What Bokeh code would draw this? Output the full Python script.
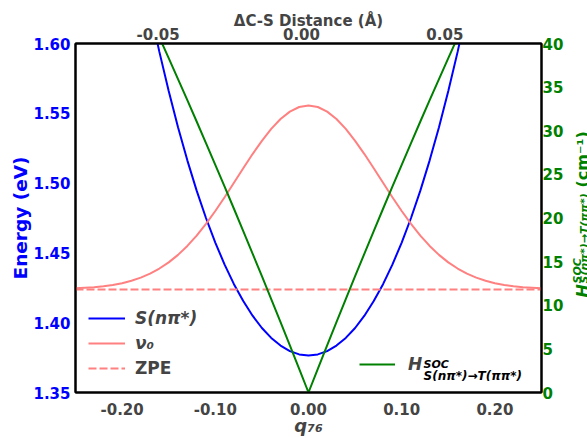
from bokeh.plotting import figure
from bokeh.layouts import row
from bokeh.models import (Range1d, LinearAxis, FixedTicker, NumeralTickFormatter,
                          Legend, LegendItem, Label)
from bokeh.embed import file_html
from bokeh.resources import INLINE
import math

# ---------------- data ----------------
q_grid = [-0.18, -0.17, -0.16, -0.15, -0.14, -0.13, -0.12, -0.11, -0.10, -0.09,
          -0.08, -0.07, -0.06, -0.05, -0.04, -0.03, -0.02, -0.01, 0.00,
          0.01, 0.02, 0.03, 0.04, 0.05, 0.06, 0.07, 0.08, 0.09, 0.10,
          0.11, 0.12, 0.13, 0.14, 0.15, 0.16, 0.17, 0.18]
e_s = [1.6578, 1.6247, 1.5940, 1.5659, 1.5400, 1.5163, 1.4946, 1.4750, 1.4574, 1.4416,
       1.4276, 1.4155, 1.4050, 1.3962, 1.3891, 1.3836, 1.3796, 1.3773, 1.3765,
       1.3773, 1.3796, 1.3836, 1.3891, 1.3962, 1.4050, 1.4155, 1.4276, 1.4416, 1.4574,
       1.4750, 1.4946, 1.5163, 1.5400, 1.5659, 1.5940, 1.6247, 1.6578]
h_soc = [45.40, 43.06, 40.70, 38.33, 35.92, 33.50, 31.06, 28.59, 26.10, 23.59,
         21.06, 18.50, 15.92, 13.33, 10.70, 8.06, 5.40, 2.71, 0.00,
         2.71, 5.40, 8.06, 10.70, 13.33, 15.92, 18.50, 21.06, 23.59, 26.10,
         28.59, 31.06, 33.50, 35.92, 38.33, 40.70, 43.06, 45.40]

q_nu = [-0.25, -0.24, -0.23, -0.22, -0.21, -0.20, -0.19, -0.18, -0.17, -0.16,
        -0.15, -0.14, -0.13, -0.12, -0.11, -0.10, -0.09, -0.08, -0.07, -0.06,
        -0.05, -0.04, -0.03, -0.02, -0.01, 0.00, 0.01, 0.02, 0.03, 0.04,
        0.05, 0.06, 0.07, 0.08, 0.09, 0.10, 0.11, 0.12, 0.13, 0.14,
        0.15, 0.16, 0.17, 0.18, 0.19, 0.20, 0.21, 0.22, 0.23, 0.24, 0.25]
e_nu = [1.4246, 1.4250, 1.4254, 1.4261, 1.4270, 1.4283, 1.4300, 1.4323, 1.4351, 1.4388,
        1.4432, 1.4486, 1.4550, 1.4624, 1.4708, 1.4800, 1.4899, 1.5002, 1.5106, 1.5208,
        1.5303, 1.5388, 1.5459, 1.5512, 1.5545, 1.5556, 1.5545, 1.5512, 1.5459, 1.5388,
        1.5303, 1.5208, 1.5106, 1.5002, 1.4899, 1.4800, 1.4708, 1.4624, 1.4550, 1.4486,
        1.4432, 1.4388, 1.4351, 1.4323, 1.4300, 1.4283, 1.4270, 1.4261, 1.4254, 1.4250, 1.4246]

q_zpe = [-0.25, 0.25]
e_zpe = [1.4238, 1.4238]

x_ticks = [-0.20, -0.10, 0.00, 0.10, 0.20]
y_ticks = [1.35, 1.40, 1.45, 1.50, 1.55, 1.60]
soc_ticks = [0, 5, 10, 15, 20, 25, 30, 35, 40]
dist_ticks = [-0.05, 0.00, 0.05]

FONT = "DejaVu Sans"
BLUE = "#0000ff"
GREEN = "#008000"
PINK = "#ff8080"

p = figure(width=566, height=438, output_backend="svg", toolbar_location=None,
           x_range=Range1d(-0.25, 0.25), y_range=Range1d(1.35, 1.60),
           min_border_left=75, min_border_right=23, min_border_top=43,
           min_border_bottom=46)
p.extra_x_ranges = {"dist": Range1d(-0.0788, 0.0837)}
p.extra_y_ranges = {"soc": Range1d(0, 40)}
p.grid.visible = False
p.outline_line_color = "black"
p.outline_line_width = 2

left_axis = p.left[0]
bottom_axis = p.below[0]
right_axis = LinearAxis(y_range_name="soc")
top_axis = LinearAxis(x_range_name="dist")
p.add_layout(right_axis, "right")
p.add_layout(top_axis, "above")

for ax in [left_axis, bottom_axis, right_axis, top_axis]:
    ax.major_tick_in = 0
    ax.major_tick_out = 0
    ax.minor_tick_in = 0
    ax.minor_tick_out = 0
    ax.axis_line_color = "black"
    ax.axis_line_width = 2
    ax.major_label_text_font = FONT
    ax.major_label_text_font_style = "bold"
    ax.major_label_text_font_size = "15px"
    ax.axis_label_text_font = FONT

bottom_axis.ticker = FixedTicker(ticks=x_ticks)
bottom_axis.formatter = NumeralTickFormatter(format="0.00")
bottom_axis.major_label_standoff = 10
bottom_axis.axis_label = "q₇₆"
bottom_axis.axis_label_text_font_style = "bold italic"
bottom_axis.axis_label_text_font_size = "18px"
bottom_axis.axis_label_standoff = -3

left_axis.ticker = FixedTicker(ticks=y_ticks)
left_axis.formatter = NumeralTickFormatter(format="0.00")
left_axis.major_label_text_color = BLUE
left_axis.major_label_standoff = 5
left_axis.axis_label = "Energy (eV)"
left_axis.axis_label_text_color = BLUE
left_axis.axis_label_text_font_style = "bold"
left_axis.axis_label_text_font_size = "18.5px"
left_axis.axis_label_standoff = -1

right_axis.ticker = FixedTicker(ticks=soc_ticks)
right_axis.formatter = NumeralTickFormatter(format="0")
right_axis.major_label_text_color = GREEN
right_axis.major_label_standoff = 1

top_axis.ticker = FixedTicker(ticks=dist_ticks)
top_axis.formatter = NumeralTickFormatter(format="0.00")
top_axis.major_label_standoff = 4
top_axis.axis_label = "ΔC-S Distance (Å)"
top_axis.axis_label_text_font_style = "bold"
top_axis.axis_label_text_font_size = "15px"
top_axis.axis_label_standoff = -5

# ---------------- curves ----------------
r_s = p.line(q_grid, e_s, line_color=BLUE, line_width=2)
r_nu = p.line(q_nu, e_nu, line_color=PINK, line_width=2)
r_zpe = p.line(q_zpe, e_zpe, line_color=PINK, line_width=2, line_dash="8 3")
r_soc = p.line(q_grid, h_soc, line_color=GREEN, line_width=2, y_range_name="soc")

def make_legend(items, loc, style):
    lg = Legend(items=items, location=loc, padding=0, margin=0, spacing=5,
                glyph_width=37, glyph_height=20, label_height=20,
                label_standoff=10, background_fill_alpha=0, border_line_alpha=0,
                label_text_font=FONT, label_text_font_style=style,
                label_text_font_size="17px")
    p.add_layout(lg)
    return lg

make_legend([LegendItem(label="S(nπ*)", renderers=[r_s]),
             LegendItem(label="ν₀", renderers=[r_nu])], (13, 39), "bold italic")
make_legend([LegendItem(label="ZPE", renderers=[r_zpe])], (13, 14), "bold")
lg3 = make_legend([LegendItem(label="H", renderers=[r_soc])], (284, 18), "bold italic")
lg3.glyph_width = 36
lg3.label_standoff = 13

def lab(fig, text, x, y, size, style="bold italic", color="black", angle=0.0):
    fig.add_layout(Label(x=x, y=y, x_units="screen", y_units="screen", text=text,
                         text_font=FONT, text_font_style=style, text_font_size=size,
                         text_color=color, angle=angle, text_align="left",
                         text_baseline="alphabetic"))

# legend superscript / subscript
lab(p, "SOC", 348, 28, "11px")
lab(p, "S(nπ*)→T(ππ*)", 348, 17, "12px")

# ---------------- right-hand title strip ----------------
# (its frame is aligned with the main frame by the row layout: y counted from y=392)
p2 = figure(width=21, height=438, output_backend="svg", toolbar_location=None,
            x_axis_location=None, y_axis_location=None, min_border=0,
            x_range=Range1d(0, 1), y_range=Range1d(0, 1))
p2.outline_line_color = None
p2.grid.visible = False
up = math.pi / 2
lab(p2, "H", 16, 95, "16px", color=GREEN, angle=up)
lab(p2, "SOC", 11, 109, "11px", color=GREEN, angle=up)
lab(p2, "S(nπ*)→T(ππ*)", 18, 109, "11px", color=GREEN, angle=up)
lab(p2, "(cm⁻¹)", 16, 205, "16px", style="bold", color=GREEN, angle=up)

layout = row(p, p2)
open("out.html", "w").write(file_html(layout, INLINE))
